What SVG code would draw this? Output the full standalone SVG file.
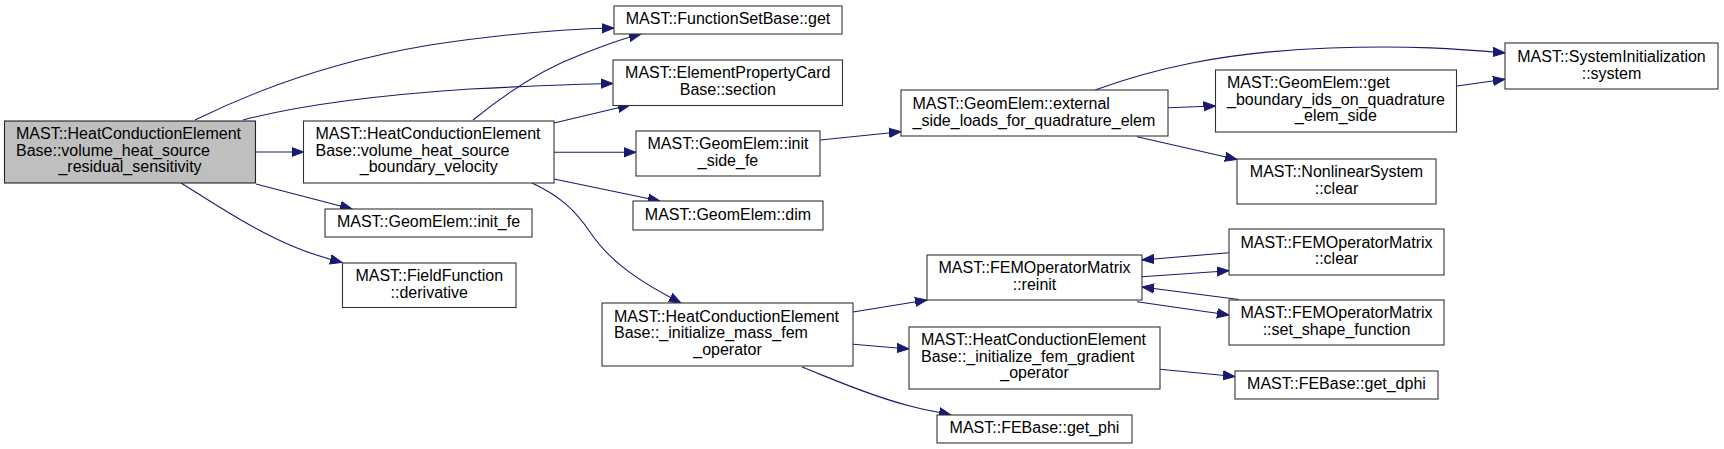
<svg xmlns="http://www.w3.org/2000/svg" width="1724" height="449" viewBox="0 0 1724 449">
<defs>
<style>
.n rect{fill:#ffffff;stroke:#333333;stroke-width:1.1}
.n.main rect{fill:#bfbfbf;stroke:#222222}
.n text{font-family:"Liberation Sans",Arial,Helvetica,sans-serif;font-size:16px;fill:#000000}
.c{text-anchor:middle}
.e path{fill:none;stroke:#191970;stroke-width:1.1;marker-end:url(#ah)}
</style>
<marker id="ah" markerUnits="userSpaceOnUse" markerWidth="14" markerHeight="12" refX="12" refY="0" viewBox="0 -6 14 12" orient="auto">
<path d="M0,-4.6 L12,0 L0,4.6 Z" fill="#191970" stroke="#191970" stroke-width="1"/>
</marker>
</defs>
<rect x="0" y="0" width="1724" height="449" fill="#ffffff"/>
<g id="edges" class="e">
<path d="M195,120 C260,88 340,60 430,45 C510,33 570,29 614,28"/>
<path d="M243,120 C300,105 380,95 470,89 C530,86 580,84 613,83.5"/>
<path d="M256,152 L303.5,152"/>
<path d="M256,184 L352,209"/>
<path d="M181,183 C210,201 250,228 290,245 C310,254 325,258 342,262.5"/>
<path d="M473,120 C500,98 540,70 580,55 C605,45 625,38 641,34"/>
<path d="M554,123 L630,105"/>
<path d="M554,152.3 L636,152.3"/>
<path d="M554,179 L660,201"/>
<path d="M532,183 C560,196 575,210 590,232 C610,262 640,282 681,303"/>
<path d="M820,140 L901,131.7"/>
<path d="M1095,90 C1150,70 1220,52 1330,48 C1410,45 1460,49 1505,53"/>
<path d="M1168,107.7 L1215.5,106"/>
<path d="M1137,136.7 L1237,159.5"/>
<path d="M1457,86 L1505,79.3"/>
<path d="M853,312 L927,300"/>
<path d="M853,344.3 L909,349"/>
<path d="M802,367 C830,378 870,396 910,406 C925,410 938,412 951,415"/>
<path d="M1229,252.7 L1142,260"/>
<path d="M1142,276.7 L1229,270.7"/>
<path d="M1239,299.5 L1142,287"/>
<path d="M1137,301.7 L1229,315"/>
<path d="M1160,369.3 L1235,376.5"/>
</g>
<g id="node_main" class="n main">
<rect x="4.5" y="121" width="251" height="62"/>
<text x="16" y="138.8">MAST::HeatConductionElement</text>
<text x="16" y="155.5">Base::volume_heat_source</text>
<text class="c" x="130" y="172.2">_residual_sensitivity</text>
</g>
<g id="node_bv" class="n">
<rect x="303.5" y="121" width="250.5" height="62"/>
<text x="315.5" y="138.8">MAST::HeatConductionElement</text>
<text x="315.5" y="155.5">Base::volume_heat_source</text>
<text class="c" x="428.75" y="172.2">_boundary_velocity</text>
</g>
<g id="node_get" class="n">
<rect x="614" y="6" width="228" height="28"/>
<text class="c" x="728" y="24.3">MAST::FunctionSetBase::get</text>
</g>
<g id="node_section" class="n">
<rect x="613" y="60" width="229.5" height="45.5"/>
<text class="c" x="727.75" y="78.3">MAST::ElementPropertyCard</text>
<text class="c" x="727.75" y="95">Base::section</text>
</g>
<g id="node_init_fe" class="n">
<rect x="325" y="209" width="207" height="28"/>
<text class="c" x="428.5" y="227.3">MAST::GeomElem::init_fe</text>
</g>
<g id="node_derivative" class="n">
<rect x="342.5" y="263" width="173.5" height="44.5"/>
<text class="c" x="429.25" y="280.9">MAST::FieldFunction</text>
<text class="c" x="429.25" y="297.6">::derivative</text>
</g>
<g id="node_init_side_fe" class="n">
<rect x="636" y="131" width="184" height="45"/>
<text class="c" x="728" y="149.2">MAST::GeomElem::init</text>
<text class="c" x="728" y="165.9">_side_fe</text>
</g>
<g id="node_dim" class="n">
<rect x="633" y="201" width="190" height="29"/>
<text class="c" x="728" y="219.8">MAST::GeomElem::dim</text>
</g>
<g id="node_external" class="n">
<rect x="901" y="90" width="267" height="46"/>
<text x="912.5" y="109.2">MAST::GeomElem::external</text>
<text x="912.5" y="125.9">_side_loads_for_quadrature_elem</text>
</g>
<g id="node_system" class="n">
<rect x="1505" y="43" width="213" height="46"/>
<text class="c" x="1611.5" y="62.2">MAST::SystemInitialization</text>
<text class="c" x="1611.5" y="78.9">::system</text>
</g>
<g id="node_boundary_ids" class="n">
<rect x="1215.5" y="70" width="241" height="62"/>
<text x="1227" y="87.8">MAST::GeomElem::get</text>
<text x="1227" y="104.5">_boundary_ids_on_quadrature</text>
<text class="c" x="1336" y="121.2">_elem_side</text>
</g>
<g id="node_nls_clear" class="n">
<rect x="1237" y="159" width="199" height="45"/>
<text class="c" x="1336.5" y="177.2">MAST::NonlinearSystem</text>
<text class="c" x="1336.5" y="193.9">::clear</text>
</g>
<g id="node_fem_clear" class="n">
<rect x="1229" y="229" width="215" height="46"/>
<text class="c" x="1336.5" y="247.7">MAST::FEMOperatorMatrix</text>
<text class="c" x="1336.5" y="264.4">::clear</text>
</g>
<g id="node_set_shape" class="n">
<rect x="1229" y="300" width="215" height="45"/>
<text class="c" x="1336.5" y="318.2">MAST::FEMOperatorMatrix</text>
<text class="c" x="1336.5" y="334.9">::set_shape_function</text>
</g>
<g id="node_get_dphi" class="n">
<rect x="1235" y="371" width="203" height="28"/>
<text class="c" x="1336.5" y="389.3">MAST::FEBase::get_dphi</text>
</g>
<g id="node_mass_fem" class="n">
<rect x="602" y="303" width="251" height="63"/>
<text x="614" y="321.5">MAST::HeatConductionElement</text>
<text x="614" y="338.2">Base::_initialize_mass_fem</text>
<text class="c" x="727.5" y="354.9">_operator</text>
</g>
<g id="node_reinit" class="n">
<rect x="927" y="255" width="215" height="45"/>
<text class="c" x="1034.5" y="273.2">MAST::FEMOperatorMatrix</text>
<text class="c" x="1034.5" y="289.9">::reinit</text>
</g>
<g id="node_gradient" class="n">
<rect x="909" y="327" width="251" height="62"/>
<text x="921" y="344.8">MAST::HeatConductionElement</text>
<text x="921" y="361.5">Base::_initialize_fem_gradient</text>
<text class="c" x="1034.5" y="378.2">_operator</text>
</g>
<g id="node_get_phi" class="n">
<rect x="937" y="415" width="195" height="28"/>
<text class="c" x="1034.5" y="433.3">MAST::FEBase::get_phi</text>
</g>
</svg>
